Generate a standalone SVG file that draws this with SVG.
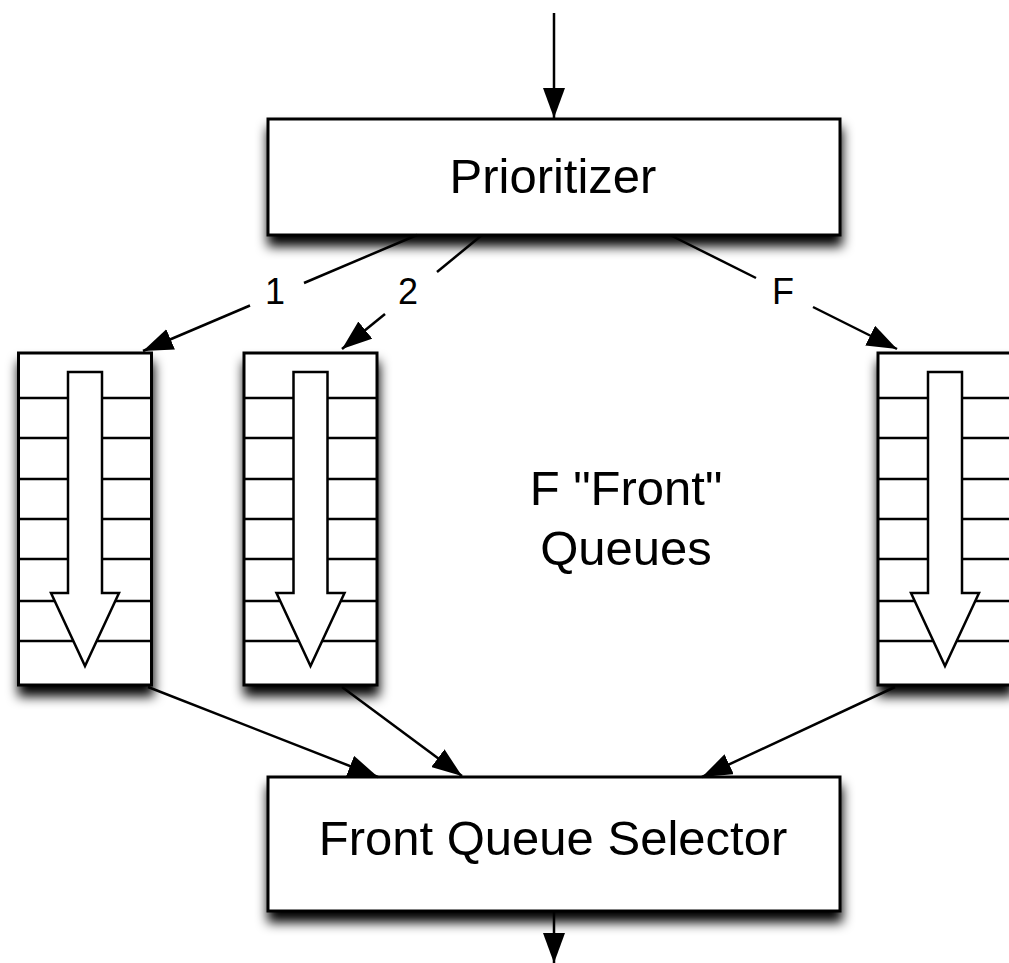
<svg xmlns="http://www.w3.org/2000/svg" width="1009" height="963" viewBox="0 0 1009 963">
  <style>
    .box { fill: #ffffff; stroke: #000000; stroke-width: 3; }
    .cell { stroke: #000000; stroke-width: 2.5; fill: none; }
    .flow { fill: #ffffff; stroke: #000000; stroke-width: 2.5; stroke-linejoin: miter; }
    .edge { fill: none; stroke: #000000; stroke-width: 2.5; }
    .big { font-family: "Liberation Sans", Arial, Helvetica, sans-serif; font-size: 49px; fill: #000000; text-anchor: middle; }
    .lbl { font-family: "Liberation Sans", Arial, Helvetica, sans-serif; font-size: 36px; fill: #000000; text-anchor: middle; }
  </style>
  <defs>
    <filter id="shadow" x="-20%" y="-20%" width="140%" height="160%">
      <feGaussianBlur in="SourceAlpha" stdDeviation="6" result="blur"/>
      <feOffset in="blur" dx="1" dy="10" result="off"/>
      <feComponentTransfer in="off" result="shade">
        <feFuncA type="linear" slope="1"/>
      </feComponentTransfer>
      <feMerge>
        <feMergeNode in="shade"/>
        <feMergeNode in="SourceGraphic"/>
      </feMerge>
    </filter>
    <marker id="head" markerUnits="userSpaceOnUse" markerWidth="30" markerHeight="22" refX="30" refY="11" orient="auto">
      <path d="M0,0 L30,11 L0,22 z" fill="#000000"/>
    </marker>
  </defs>

  <rect width="1009" height="963" fill="#ffffff"/>

  <!-- Prioritizer -->
  <g id="prioritizer">
    <rect class="box" x="268" y="119" width="572" height="116" filter="url(#shadow)"/>
    <text class="big" x="553" y="193">Prioritizer</text>
  </g>

  <!-- Front queue 1 -->
  <g id="queue-1">
    <rect class="box" x="18.5" y="353" width="133" height="332" filter="url(#shadow)"/>
    <path class="cell" d="M18.5,398 H151.5 M18.5,438 H151.5 M18.5,479 H151.5 M18.5,519 H151.5 M18.5,559 H151.5 M18.5,601 H151.5 M18.5,641 H151.5"/>
    <path class="flow" d="M68,372 H102 V593 H119 L85,666 L51,593 H68 Z"/>
  </g>

  <!-- Front queue 2 -->
  <g id="queue-2">
    <rect class="box" x="244" y="353" width="133" height="332" filter="url(#shadow)"/>
    <path class="cell" d="M244,398 H377 M244,438 H377 M244,479 H377 M244,519 H377 M244,559 H377 M244,601 H377 M244,641 H377"/>
    <path class="flow" d="M293.5,372 H327.5 V593 H344.5 L310.5,666 L276.5,593 H293.5 Z"/>
  </g>

  <!-- Front queue F -->
  <g id="queue-f">
    <rect class="box" x="878" y="353" width="133" height="332" filter="url(#shadow)"/>
    <path class="cell" d="M878,398 H1011 M878,438 H1011 M878,479 H1011 M878,519 H1011 M878,559 H1011 M878,601 H1011 M878,641 H1011"/>
    <path class="flow" d="M928,372 H962 V593 H979 L945,666 L911,593 H928 Z"/>
  </g>

  <!-- Caption between the queues -->
  <g id="queues-caption">
    <text class="big" x="626" y="505">F "Front"</text>
    <text class="big" x="626" y="565">Queues</text>
  </g>

  <!-- Front Queue Selector -->
  <g id="selector">
    <rect class="box" x="268" y="777" width="572" height="134" filter="url(#shadow)"/>
    <text class="big" x="553" y="855">Front Queue Selector</text>
  </g>

  <!-- Connectors -->
  <g id="connectors">
    <path class="edge" d="M554,13 V118" marker-end="url(#head)"/>

    <path class="edge" d="M417,235 L304,283"/>
    <path class="edge" d="M250,305.5 L143,351" marker-end="url(#head)"/>
    <text class="lbl" x="275" y="304">1</text>

    <path class="edge" d="M482,235 L437,272"/>
    <path class="edge" d="M385,314 L342,349" marker-end="url(#head)"/>
    <text class="lbl" x="408" y="304">2</text>

    <path class="edge" d="M670,235 L756,278"/>
    <path class="edge" d="M813,307 L897,349" marker-end="url(#head)"/>
    <text class="lbl" x="783" y="304">F</text>

    <path class="edge" d="M148,687 L378,777" marker-end="url(#head)"/>
    <path class="edge" d="M342,687 L462,776" marker-end="url(#head)"/>
    <path class="edge" d="M895,687 L702,777" marker-end="url(#head)"/>

    <path class="edge" d="M554,912 V963" marker-end="url(#head)"/>
  </g>
</svg>
